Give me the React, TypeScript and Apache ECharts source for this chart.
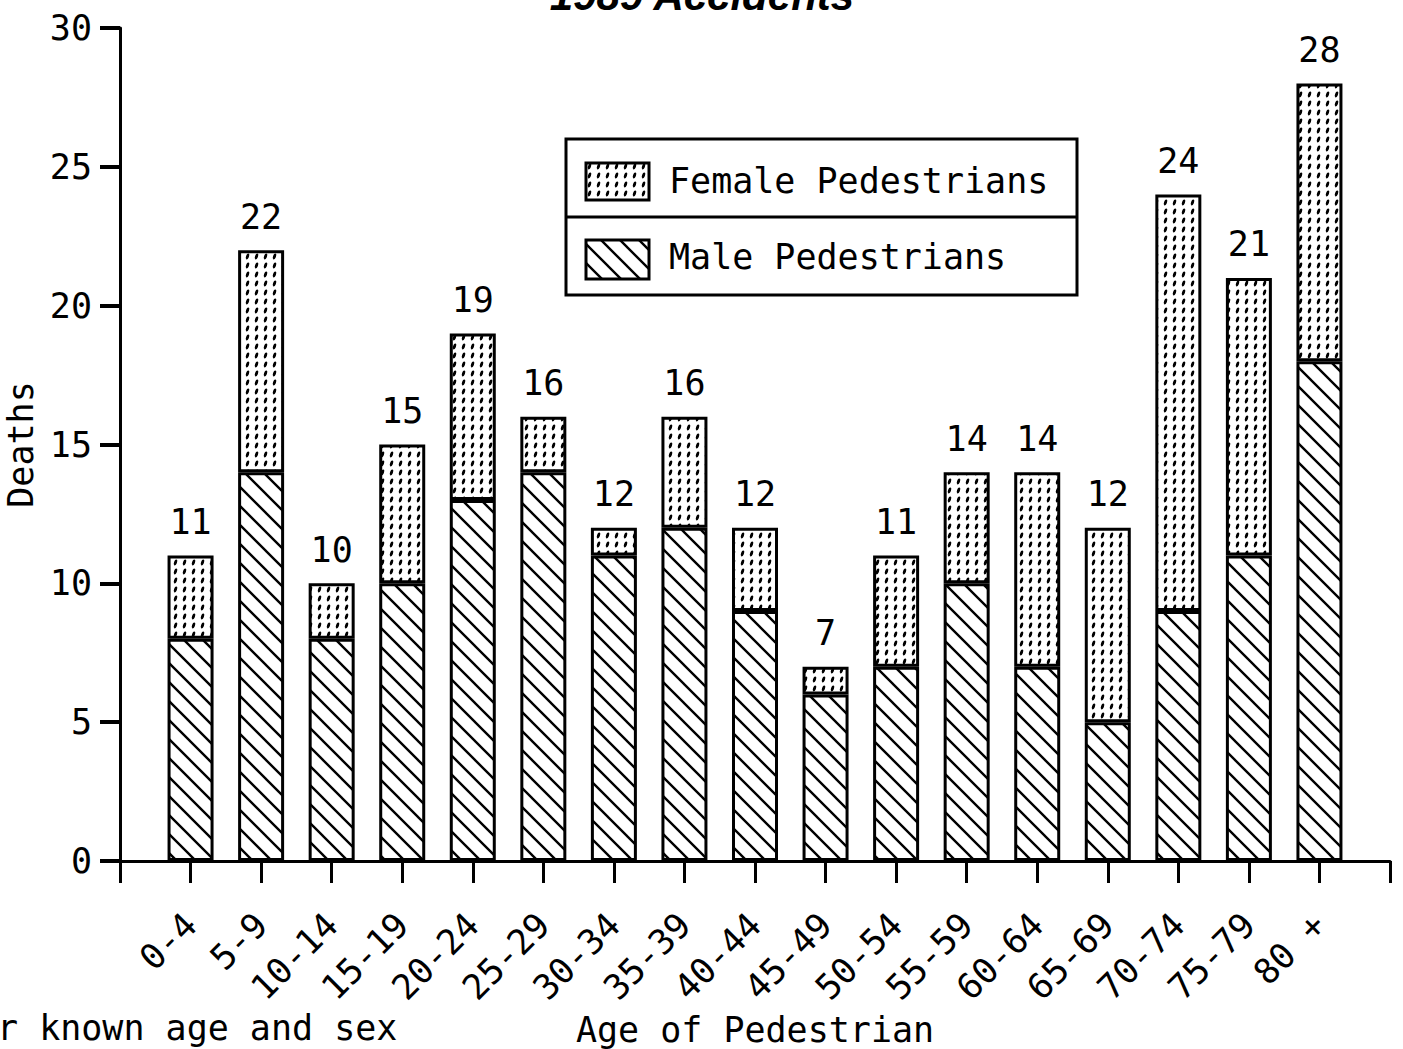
import React, { useEffect, useRef } from 'react';
import * as echarts from 'echarts';

const categories = ['0-4', '5-9', '10-14', '15-19', '20-24', '25-29', '30-34', '35-39', '40-44', '45-49', '50-54', '55-59', '60-64', '65-69', '70-74', '75-79', '80 +'];
const maleDeaths = [8, 14, 8, 10, 13, 14, 11, 12, 9, 6, 7, 10, 7, 5, 9, 11, 18];
const femaleDeaths = [3, 8, 2, 5, 6, 2, 1, 4, 3, 1, 4, 4, 7, 7, 15, 10, 10];
const yMin = 0;
const yMax = 30;
const yInterval = 5;
const titleText = '1989 Accidents';
const xAxisName = 'Age of Pedestrian';
const yAxisName = 'Deaths';
const footnote = 'r known age and sex';
const femaleName = 'Female Pedestrians';
const maleName = 'Male Pedestrians';

const MONO = 'DejaVu Sans Mono';

function malePattern() {
  const s = 19;
  const c = document.createElement('canvas');
  c.width = s;
  c.height = s;
  const g = c.getContext('2d')!;
  g.fillStyle = '#fff';
  g.fillRect(0, 0, s, s);
  g.strokeStyle = '#000';
  g.lineWidth = 2.4;
  g.beginPath();
  for (let k = -1; k <= 1; k++) {
    g.moveTo(-3, k * s - 3);
    g.lineTo(s + 3, s + k * s + 3);
  }
  g.stroke();
  return { image: c, repeat: 'repeat', imageWidth: s, imageHeight: s };
}

function femalePattern() {
  const w = 9;
  const h = 9;
  const c = document.createElement('canvas');
  c.width = w;
  c.height = h;
  const g = c.getContext('2d')!;
  g.fillStyle = '#fff';
  g.fillRect(0, 0, w, h);
  g.fillStyle = '#000';
  g.beginPath();
  g.ellipse(4.5, 4.5, 1.5, 3.1, 0.35, 0, Math.PI * 2);
  g.fill();
  return { image: c, repeat: 'repeat', imageWidth: w, imageHeight: h };
}

export default function App() {
  const ref = useRef<HTMLDivElement>(null);
  useEffect(() => {
    document.body.style.margin = '0';
    const chart = echarts.init(ref.current!, null, { renderer: 'svg' });
    const mP = malePattern();
    const fP = femalePattern();
    const xData = [' ', ...categories, '  '];
    const male = ['-', ...maleDeaths, '-'];
    const female = ['-', ...femaleDeaths, '-'];
    const totals = ['', ...maleDeaths.map((m, i) => m + femaleDeaths[i]), ''];
    const textStyle = { fontFamily: MONO, fontSize: 35, color: '#000' };
    chart.setOption({
      animation: false,
      backgroundColor: '#fff',
      grid: { left: 120, right: 13, top: 28, bottom: 188, containLabel: false, outerBoundsMode: 'none' },
      xAxis: {
        type: 'category',
        data: xData,
        boundaryGap: false,
        name: xAxisName,
        nameLocation: 'middle',
        nameGap: 146,
        nameTextStyle: textStyle,
        axisLine: { lineStyle: { color: '#000', width: 3 } },
        axisTick: { show: true, inside: false, length: 22, interval: 0, lineStyle: { color: '#000', width: 3 } },
        axisLabel: { ...textStyle, interval: 0, rotate: 45, margin: 58 },
        splitLine: { show: false },
      },
      yAxis: {
        type: 'value',
        min: yMin,
        max: yMax,
        interval: yInterval,
        name: yAxisName,
        nameLocation: 'middle',
        nameRotate: 90,
        nameGap: 64,
        nameTextStyle: textStyle,
        axisLine: { show: true, lineStyle: { color: '#000', width: 3 } },
        axisTick: { show: true, inside: false, length: 20, lineStyle: { color: '#000', width: 4 } },
        axisLabel: { ...textStyle, margin: 28 },
        splitLine: { show: false },
      },
      series: [
        {
          name: maleName,
          type: 'bar',
          stack: 'deaths',
          data: male,
          barWidth: 46,
          itemStyle: { color: mP, borderColor: '#000', borderWidth: 3 },
        },
        {
          name: femaleName,
          type: 'bar',
          stack: 'deaths',
          data: female,
          barWidth: 46,
          itemStyle: { color: fP, borderColor: '#000', borderWidth: 3 },
          label: {
            show: true,
            position: 'top',
            distance: 16,
            ...textStyle,
            formatter: (p: any) => String(totals[p.dataIndex]),
          },
        },
      ],
      graphic: [
        {
          type: 'text',
          x: 702,
          y: 16,
          style: {
            text: titleText,
            fontFamily: 'Liberation Sans',
            fontWeight: 'bold',
            fontStyle: 'italic',
            fontSize: 42,
            fill: '#000',
            align: 'center',
            verticalAlign: 'bottom',
          },
        },
        {
          type: 'text',
          x: -3,
          y: 1028,
          style: { text: footnote, fontFamily: MONO, fontSize: 35, fill: '#000', align: 'left', verticalAlign: 'middle' },
        },
        {
          type: 'rect',
          shape: { x: 566, y: 139, width: 511, height: 156 },
          style: { fill: '#fff', stroke: '#000', lineWidth: 3 },
          z: 10,
        },
        {
          type: 'line',
          shape: { x1: 566, y1: 217, x2: 1077, y2: 217 },
          style: { stroke: '#000', lineWidth: 3 },
          z: 11,
        },
        {
          type: 'rect',
          shape: { x: 586, y: 163, width: 63, height: 37 },
          style: { fill: fP, stroke: '#000', lineWidth: 3 },
          z: 11,
        },
        {
          type: 'rect',
          shape: { x: 586, y: 240, width: 63, height: 39 },
          style: { fill: mP, stroke: '#000', lineWidth: 3 },
          z: 11,
        },
        {
          type: 'text',
          x: 669,
          y: 181,
          style: { text: femaleName, fontFamily: MONO, fontSize: 35, fill: '#000', align: 'left', verticalAlign: 'middle' },
          z: 11,
        },
        {
          type: 'text',
          x: 669,
          y: 257,
          style: { text: maleName, fontFamily: MONO, fontSize: 35, fill: '#000', align: 'left', verticalAlign: 'middle' },
          z: 11,
        },
      ],
    });
    return () => chart.dispose();
  }, []);
  return <div ref={ref} style={{ width: 1403, height: 1049 }} />;
}
